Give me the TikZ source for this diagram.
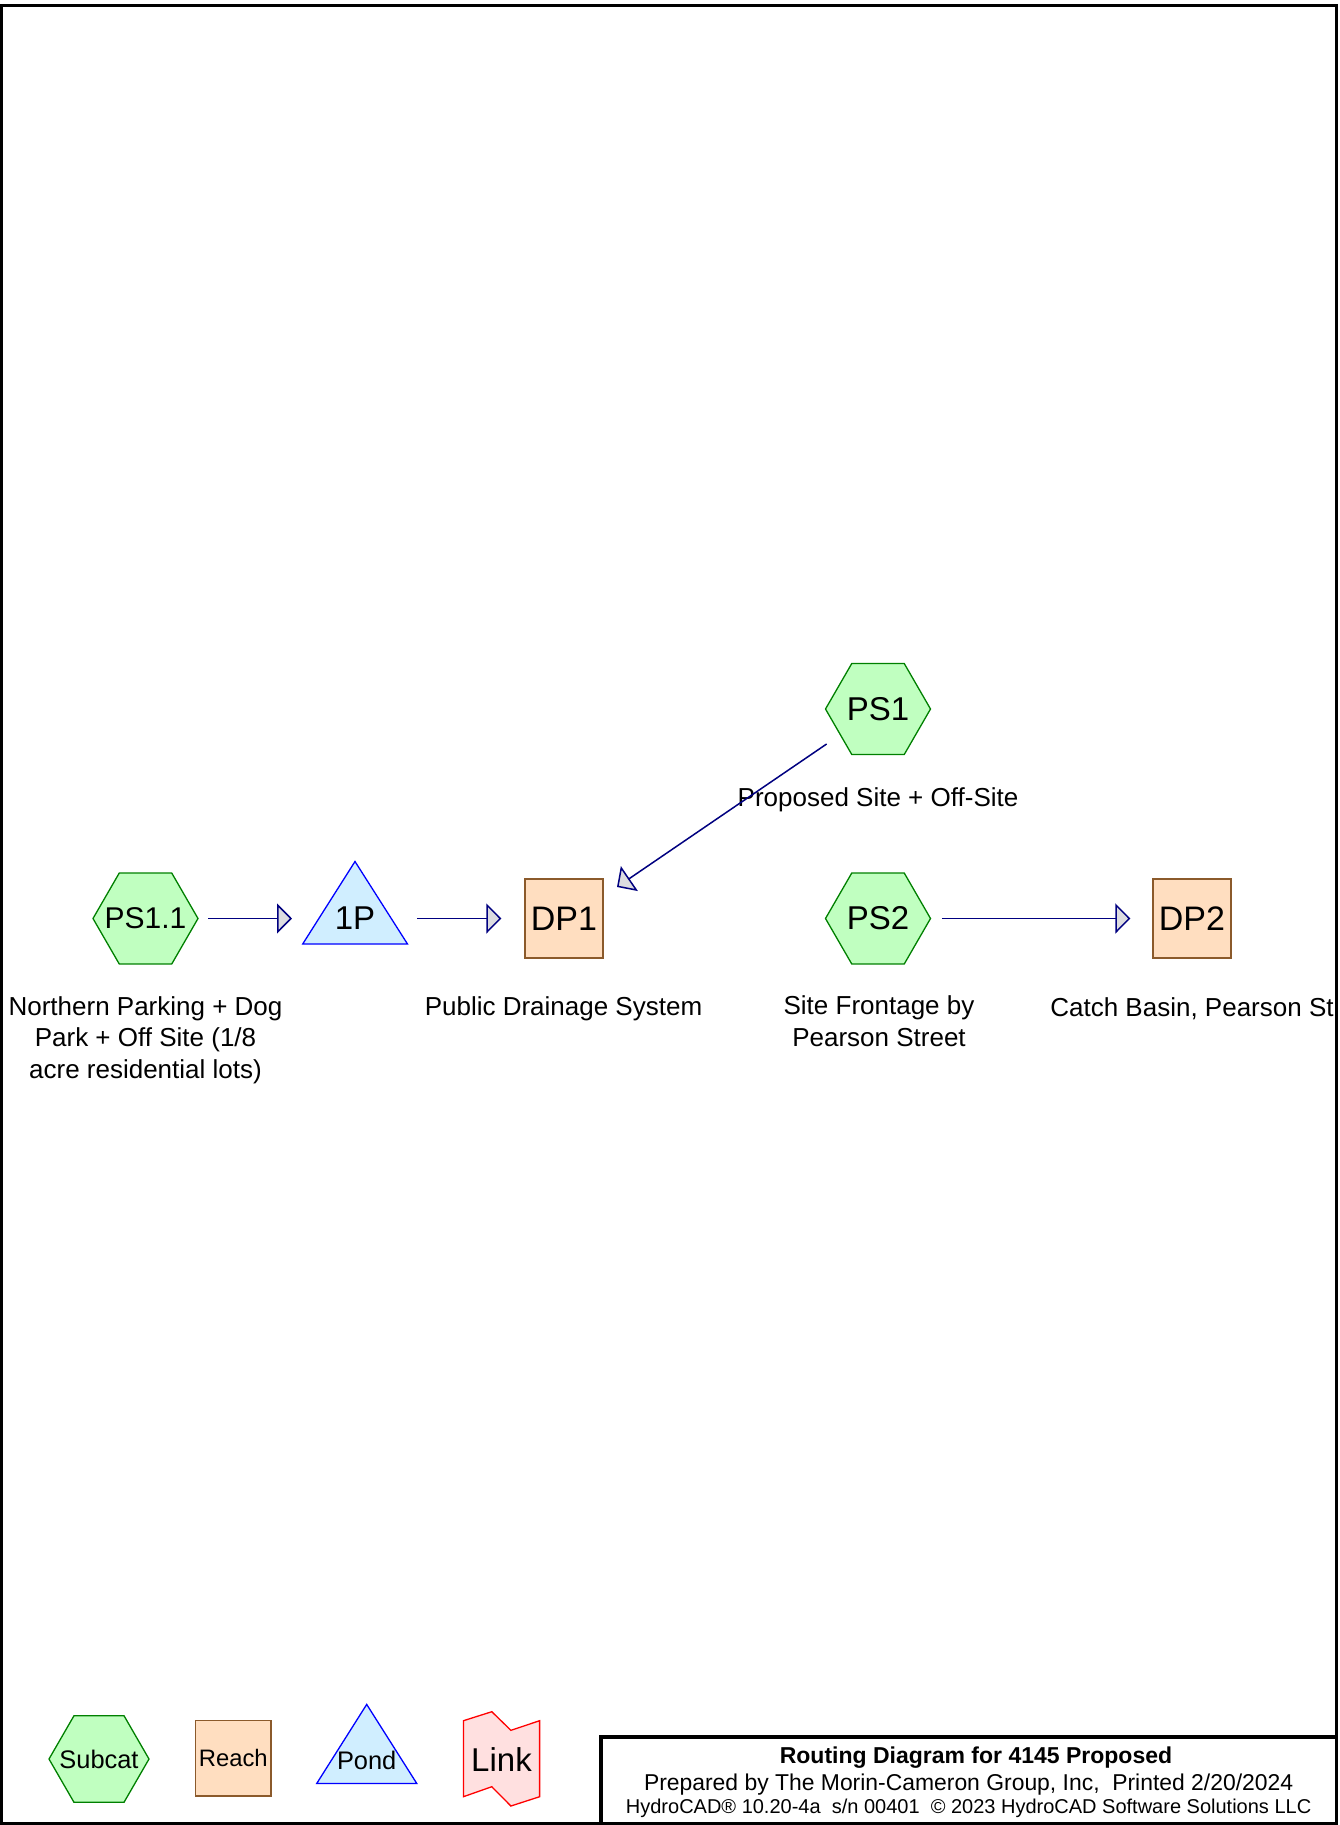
\documentclass[tikz,border=0pt]{standalone}
\usepackage{fontspec}
\setmainfont{Liberation Sans}
\usetikzlibrary{shapes.geometric,arrows.meta}
\definecolor{subfill}{HTML}{C0FFC0}
\definecolor{subdraw}{HTML}{008000}
\definecolor{reachfill}{HTML}{FFDEC0}
\definecolor{reachdraw}{HTML}{8B5A2B}
\definecolor{pondfill}{HTML}{D0EEFF}
\definecolor{ponddraw}{HTML}{0000FF}
\definecolor{linkfill}{HTML}{FFE0E0}
\definecolor{linkdraw}{HTML}{FF0000}
\definecolor{flowc}{HTML}{000080}
\definecolor{headfill}{HTML}{DCDCE0}
\tikzset{
  subcat/.style={regular polygon, regular polygon sides=6, minimum size=105pt, inner sep=0pt, draw=subdraw, fill=subfill, line width=1.3pt},
  reach/.style={rectangle, minimum width=78pt, minimum height=79pt, inner sep=0pt, draw=reachdraw, fill=reachfill, line width=1.3pt},
  pondsty/.style={draw=ponddraw, fill=pondfill, line width=1.3pt, line join=miter},
  linksty/.style={draw=linkdraw, fill=linkfill, line width=1.3pt},
  lbl/.style={font=\fontsize{26}{31.4}\selectfont, align=center, inner sep=0pt},
  nlbl/.style={font=\fontsize{33}{36}\selectfont, inner sep=0pt},
  flow/.style={draw=flowc, line width=1.5pt, -{Triangle[length=15pt, width=30pt, fill=headfill]}},
  frame/.style={draw=black, line width=3pt}
}
\begin{document}
\begin{tikzpicture}[x=1pt,y=-1pt]
\useasboundingbox (0,0) rectangle (1340,1825);
\fill[white] (0,0) rectangle (1340,1825);

% main diagram
\node[subcat, label={[nlbl]center:PS1}] (ps1) at (878,709) {};
\node[subcat, label={[font=\fontsize{30}{32}\selectfont, inner sep=0pt]center:PS1.1}] (ps11) at (145.5,918.5) {};
\draw[pondsty] (302.7,944) -- (355,861.5) -- (407.5,944) -- cycle;
\node[nlbl] (p1) at (355,918.5) {1P};
\node[reach, font=\fontsize{34}{36}\selectfont] (dp1) at (564,918.5) {DP1};
\node[subcat, label={[nlbl]center:PS2}] (ps2) at (878,918.5) {};
\node[reach, font=\fontsize{34}{36}\selectfont] (dp2) at (1192,918.5) {DP2};

% labels
\node[lbl] (lps1) at (878,800) {Proposed Site + Off-Site};
\node[lbl] (lps11) at (145.5,1040) {Northern Parking + Dog\\Park + Off Site (1/8\\acre residential lots)};
\node[lbl] (ldp1) at (563.5,1008.5) {Public Drainage System};
\node[lbl] (lps2) at (879,1021) {Site Frontage by\\Pearson Street};
\node[lbl] (ldp2) at (1192,1008.5) {Catch Basin, Pearson St};

% connectors
\draw[flow] ([xshift=9.5pt]ps11.east) -- ([xshift=-63pt]p1.center);
\draw[flow] ([xshift=62pt]p1.center) -- ([xshift=-23pt]dp1.west);
\draw[flow] ([xshift=10.5pt]ps2.east) -- ([xshift=-22pt]dp2.west);
\draw[flow] ([xshift=-51.4pt,yshift=-35pt]ps1.center) -- ([xshift=53pt,yshift=31.5pt]dp1.center);

% legend
\node[subcat, minimum size=100pt, label={[font=\fontsize{25.4}{28}\selectfont, inner sep=0pt]center:Subcat}] (lgsub) at (99,1759) {};
\node[reach, minimum width=75.4pt, minimum height=75.3pt, font=\fontsize{23.8}{26}\selectfont] (lgreach) at (233.3,1758.4) {Reach};
\draw[pondsty] (316.7,1783.5) -- (366.7,1704.4) -- (416.8,1783.5) -- cycle;
\node[font=\fontsize{25.4}{28}\selectfont, inner sep=0pt] (lgpond) at (366.7,1760) {Pond};
\draw[linksty] (463.4,1720.7) -- (491.8,1711.7) -- (510.9,1730.3) -- (539.6,1720.7) -- (539.6,1796.7) -- (510.9,1806) -- (491.8,1786.7) -- (463.4,1796.7) -- cycle;
\node[font=\fontsize{33}{36}\selectfont, inner sep=0pt] (lglink) at (501.5,1760) {Link};

% title block
\node[font=\bfseries\fontsize{23}{26}\selectfont, inner sep=0pt] (t1) at (976,1758) {Routing Diagram for 4145 Proposed};
\node[font=\fontsize{22.9}{26}\selectfont, inner sep=0pt] (t2) at (968.6,1784.8) {Prepared by The Morin-Cameron Group, Inc,\ \ Printed 2/20/2024};
\node[font=\fontsize{20}{23}\selectfont, inner sep=0pt] (t3) at (968.6,1808) {HydroCAD® 10.20-4a\ \ s/n 00401\ \ © 2023 HydroCAD Software Solutions LLC};

% frames
\fill[white] (1336.5,0) rectangle (1340,1825);
\draw[frame, line width=3.5pt] (601,1737) rectangle (1336.5,1823.5);
\draw[frame] (1,5.5) rectangle (1336.5,1823.5);
\end{tikzpicture}
\end{document}
